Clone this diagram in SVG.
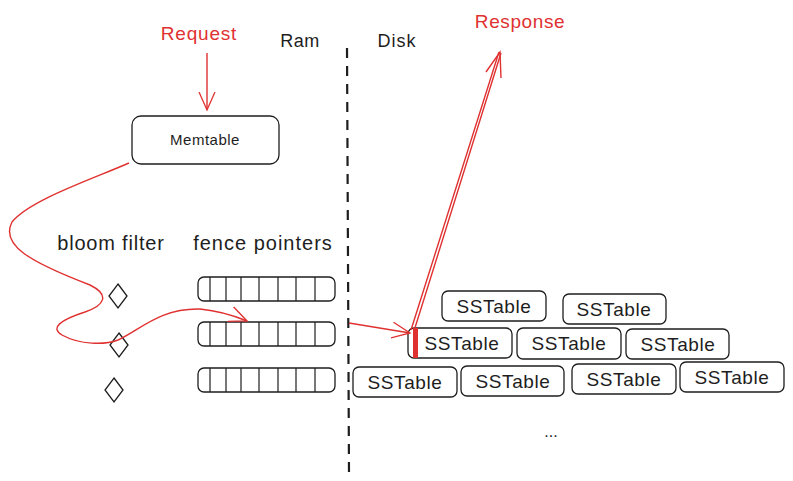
<svg xmlns="http://www.w3.org/2000/svg" width="793" height="481" viewBox="0 0 793 481">
<defs>
<style>
.t{font-family:"Liberation Sans","Noto Sans",sans-serif;fill:#1e1e1e}
.r{fill:#e03131}
.box{fill:#fff;stroke:#1e1e1e;stroke-width:1.3}
.cell{stroke:#1e1e1e;stroke-width:1.2}
.red{fill:none;stroke:#e03131;stroke-width:1.4}
.sst{font-family:"Liberation Sans","Noto Sans",sans-serif;font-size:19px;letter-spacing:0.6px;fill:#1e1e1e;text-anchor:middle}
</style>
<marker id="ah" viewBox="0 0 20 20" refX="18" refY="10" markerWidth="20" markerHeight="20" markerUnits="userSpaceOnUse" orient="auto">
<path d="M0,2 L18,10 L0,18" fill="none" stroke="#e03131" stroke-width="1.3"/>
</marker>
</defs>
<rect width="793" height="481" fill="#fff"/>

<g id="labels">
<text class="t r" x="199" y="40" font-size="19" letter-spacing="0.8" text-anchor="middle">Request</text>
<text class="t r" x="520" y="28" font-size="19" letter-spacing="0.6" text-anchor="middle">Response</text>
<text class="t" x="300" y="47" font-size="18" letter-spacing="0.5" text-anchor="middle">Ram</text>
<text class="t" x="397" y="47" font-size="18" letter-spacing="1" text-anchor="middle">Disk</text>
<text class="t" x="111" y="250" font-size="20" letter-spacing="0.8" text-anchor="middle">bloom filter</text>
<text class="t" x="263" y="250" font-size="20" letter-spacing="1" text-anchor="middle">fence pointers</text>
<text class="t" x="551" y="437" font-size="16" text-anchor="middle">...</text>
</g>

<g id="divider">
<line x1="347" y1="48" x2="349" y2="475" stroke="#1e1e1e" stroke-width="2.2" stroke-dasharray="10,8"/>
</g>

<g id="memtable">
<rect class="box" x="132" y="116" width="147" height="48" rx="9" stroke-width="2.4"/>
<text class="t" x="205" y="145" font-size="15" letter-spacing="0.5" text-anchor="middle">Memtable</text>
</g>

<g id="bloom-filters" fill="none" stroke="#1e1e1e" stroke-width="1.3">
<path d="M118,284 L127,296 L118,308 L109,296 Z"/>
<path d="M119,333 L128,345 L119,357 L110,345 Z"/>
<path d="M114,378 L123,390 L114,402 L105,390 Z"/>
</g>

<g id="fence-pointers">
<g id="fp1">
<rect class="box" x="198" y="277" width="137" height="24" rx="6"/>
<path class="cell" d="M210,277V301M226,277V301M241,277V301M259,277V301M278,277V301M296,277V301M315,277V301"/>
</g>
<g id="fp2">
<rect class="box" x="198" y="322" width="137" height="24" rx="6"/>
<path class="cell" d="M210,322V346M226,322V346M241,322V346M259,322V346M278,322V346M296,322V346M315,322V346"/>
</g>
<g id="fp3">
<rect class="box" x="198" y="368" width="137" height="24" rx="6"/>
<path class="cell" d="M210,368V392M226,368V392M241,368V392M259,368V392M278,368V392M296,368V392M315,368V392"/>
</g>
</g>

<g id="sstables">
<g id="s1"><rect class="box" x="442" y="291" width="104" height="30" rx="6"/><text class="sst" x="494" y="313">SSTable</text></g>
<g id="s2"><rect class="box" x="563" y="294" width="103" height="30" rx="6"/><text class="sst" x="614" y="316">SSTable</text></g>
<g id="s3"><rect class="box" x="408" y="328" width="104" height="30" rx="6"/><text class="sst" x="462" y="350">SSTable</text></g>
<g id="s4"><rect class="box" x="517" y="328" width="104" height="31" rx="6"/><text class="sst" x="569" y="350">SSTable</text></g>
<g id="s5"><rect class="box" x="626" y="329" width="103" height="30" rx="6"/><text class="sst" x="678" y="351">SSTable</text></g>
<g id="s6"><rect class="box" x="353" y="367" width="104" height="30" rx="6"/><text class="sst" x="405" y="389">SSTable</text></g>
<g id="s7"><rect class="box" x="461" y="366" width="103" height="30" rx="6"/><text class="sst" x="513" y="388">SSTable</text></g>
<g id="s8"><rect class="box" x="572" y="364" width="104" height="30" rx="6"/><text class="sst" x="624" y="386">SSTable</text></g>
<g id="s9"><rect class="box" x="680" y="362" width="104" height="30" rx="6"/><text class="sst" x="732" y="384">SSTable</text></g>
<rect x="413" y="328" width="5" height="30" fill="#e03131"/>
</g>

<g id="connectors">
<line class="red" x1="207" y1="53" x2="207" y2="110" marker-end="url(#ah)"/>
<path class="red" d="M129,163 C90,180 30,200 12,222 C0,245 30,262 90,285 C110,295 105,305 85,312 C60,320 50,328 62,335 C80,345 105,345 118,340 C140,330 160,308 200,309 C220,311 235,316 247,321" marker-end="url(#ah)"/>
<line class="red" x1="349" y1="323" x2="410" y2="333" marker-end="url(#ah)"/>
<path class="red" d="M411,330 L499,52 M414,331 L501,53" />
<path class="red" d="M486,72 L500,52 L501,78"/>
</g>
</svg>
